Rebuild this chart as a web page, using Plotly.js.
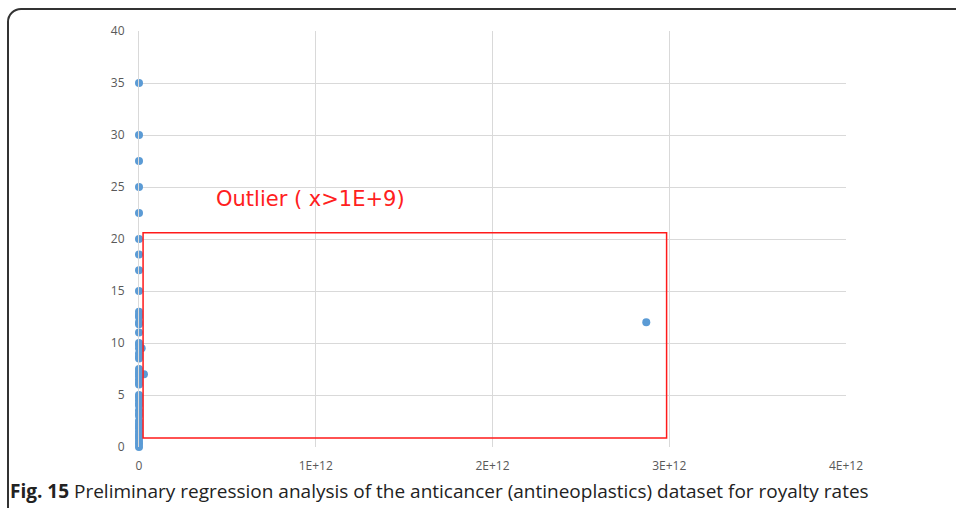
<!DOCTYPE html>
<html>
<head>
<meta charset="utf-8">
<script src="https://cdn.plot.ly/plotly-3.0.1.min.js"></script>
<style>
html,body{margin:0;padding:0;width:956px;height:508px;overflow:hidden;background:#fff;}
#frame{position:absolute;left:7px;top:8px;width:1000px;height:600px;border:2px solid #333;border-radius:14px;box-sizing:border-box;}
#chart{position:absolute;left:0;top:0;width:956px;height:508px;}
#cap{position:absolute;left:10px;top:478px;font-family:"Open Sans",sans-serif;font-size:19px;color:#222;white-space:nowrap;letter-spacing:0px;}
</style>
</head>
<body>
<div id="frame"></div>
<div id="chart"></div>
<div id="cap"><b>Fig. 15</b> Preliminary regression analysis of the anticancer (antineoplastics) dataset for royalty rates</div>
<script>
// royalty-rate data: x = value (near 0 for most), y = royalty rate
const xVals = [0,0,0,0,0,0,0,0,0,0,
               0,0,0,0,0,0,0,0,0,0,
               0,0,0,0,0,0,0,0,0,0,
               0,0,0,0,0,0,0,0,0,0,
               0,0,0,0,0,0,0,
               1.5e10, 2.8e10, 2.87e12];
const yVals = [35,30,27.5,25,22.5,20,18.5,17,15,13,
               12.7,12.5,12,11.8,11,10,9.8,9.5,9,8.7,
               8.5,7.5,7.2,7,6.8,6.5,6.2,6,5,4.8,
               4.5,4.2,4,3.5,3.2,3,2.5,2.2,2,1.8,
               1.5,1.2,1,0.8,0.5,0.3,0,
               9.5, 7, 12];
const xTicks = [0,1e12,2e12,3e12,4e12];
const xTickLabels = ["0","1E+12","2E+12","3E+12","4E+12"];
const yTicks = [0,5,10,15,20,25,30,35,40];
const boxX = [2.3e10, 2.985e12];
const boxY = [0.87, 20.6];
const outlierLabel = "Outlier ( x>1E+9)";

const trace = {
  x: xVals, y: yVals, type: 'scatter', mode: 'markers',
  marker: {color: '#5B9BD5', size: 8},
  cliponaxis: false, hoverinfo: 'skip'
};
const layout = {
  width: 956, height: 508,
  margin: {l: 139, r: 110, t: 31, b: 61},
  paper_bgcolor: 'rgba(0,0,0,0)', plot_bgcolor: 'rgba(0,0,0,0)',
  showlegend: false,
  font: {family: 'Open Sans, sans-serif', color: '#595959', size: 11},
  xaxis: {
    range: [0, 4e12], tickvals: xTicks, ticktext: xTickLabels,
    showgrid: true, gridcolor: '#d9d9d9', gridwidth: 1,
    zeroline: false, showline: false, ticks: '', ticklen: 0,
    ticklabelstandoff: 10,
    tickfont: {family: 'Liberation Sans Narrow, Open Sans, sans-serif', size: 12, color: '#595959'}
  },
  yaxis: {
    range: [0, 40], tickvals: yTicks,
    showgrid: true, gridcolor: '#d9d9d9', gridwidth: 1,
    zeroline: false, showline: true, linecolor: '#d9d9d9', linewidth: 1,
    ticks: '', ticklen: 0, ticklabelstandoff: 11,
    tickfont: {family: 'Open Sans, sans-serif', size: 12, color: '#595959'}
  },
  shapes: [{
    type: 'rect', xref: 'x', yref: 'y',
    x0: boxX[0], x1: boxX[1], y0: boxY[0], y1: boxY[1],
    line: {color: '#ff1a1a', width: 1.5}, layer: 'above'
  }],
  annotations: [{
    text: outlierLabel, xref: 'x', yref: 'y',
    x: 0.425e12, y: 23.8, xanchor: 'left', yanchor: 'middle',
    showarrow: false,
    font: {family: 'DejaVu Sans, sans-serif', size: 21, color: '#ff2020'}
  }]
};
Plotly.newPlot('chart', [trace], layout, {displayModeBar: false, staticPlot: true});
</script>
</body>
</html>
